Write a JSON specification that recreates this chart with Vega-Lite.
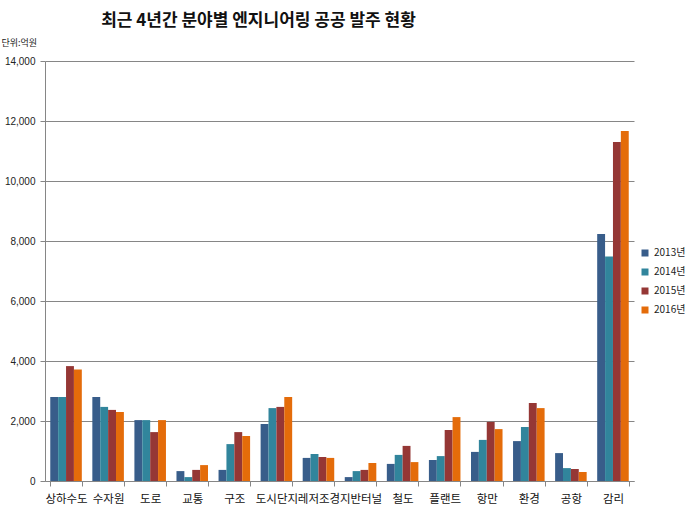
{
  "$schema": "https://vega.github.io/schema/vega-lite/v6.json",
  "width": 589,
  "height": 420,
  "autosize": {"type": "none"},
  "padding": {"left": 45, "top": 61, "right": 55, "bottom": 28},
  "background": "white",
  "title": {
    "text": "최근 4년간 분야별 엔지니어링 공공 발주 현황",
    "anchor": "middle",
    "frame": "group",
    "dx": -81,
    "baseline": "bottom",
    "offset": -9,
    "font": "Noto Sans CJK KR",
    "fontSize": 17,
    "fontWeight": "bold",
    "color": "#111111"
  },
  "data": {
    "values": [
      {"분야": "상하수도", "연도": "2013년", "값": 2800},
      {"분야": "상하수도", "연도": "2014년", "값": 2800},
      {"분야": "상하수도", "연도": "2015년", "값": 3830},
      {"분야": "상하수도", "연도": "2016년", "값": 3720},
      {"분야": "수자원", "연도": "2013년", "값": 2800},
      {"분야": "수자원", "연도": "2014년", "값": 2470},
      {"분야": "수자원", "연도": "2015년", "값": 2370},
      {"분야": "수자원", "연도": "2016년", "값": 2300},
      {"분야": "도로", "연도": "2013년", "값": 2030},
      {"분야": "도로", "연도": "2014년", "값": 2030},
      {"분야": "도로", "연도": "2015년", "값": 1630},
      {"분야": "도로", "연도": "2016년", "값": 2030},
      {"분야": "교통", "연도": "2013년", "값": 330},
      {"분야": "교통", "연도": "2014년", "값": 130},
      {"분야": "교통", "연도": "2015년", "값": 370},
      {"분야": "교통", "연도": "2016년", "값": 530},
      {"분야": "구조", "연도": "2013년", "값": 370},
      {"분야": "구조", "연도": "2014년", "값": 1230},
      {"분야": "구조", "연도": "2015년", "값": 1630},
      {"분야": "구조", "연도": "2016년", "값": 1500},
      {"분야": "도시단지", "연도": "2013년", "값": 1900},
      {"분야": "도시단지", "연도": "2014년", "값": 2430},
      {"분야": "도시단지", "연도": "2015년", "값": 2470},
      {"분야": "도시단지", "연도": "2016년", "값": 2800},
      {"분야": "레저조경", "연도": "2013년", "값": 770},
      {"분야": "레저조경", "연도": "2014년", "값": 900},
      {"분야": "레저조경", "연도": "2015년", "값": 800},
      {"분야": "레저조경", "연도": "2016년", "값": 770},
      {"분야": "지반터널", "연도": "2013년", "값": 130},
      {"분야": "지반터널", "연도": "2014년", "값": 330},
      {"분야": "지반터널", "연도": "2015년", "값": 370},
      {"분야": "지반터널", "연도": "2016년", "값": 600},
      {"분야": "철도", "연도": "2013년", "값": 570},
      {"분야": "철도", "연도": "2014년", "값": 870},
      {"분야": "철도", "연도": "2015년", "값": 1170},
      {"분야": "철도", "연도": "2016년", "값": 630},
      {"분야": "플랜트", "연도": "2013년", "값": 700},
      {"분야": "플랜트", "연도": "2014년", "값": 830},
      {"분야": "플랜트", "연도": "2015년", "값": 1700},
      {"분야": "플랜트", "연도": "2016년", "값": 2130},
      {"분야": "항만", "연도": "2013년", "값": 970},
      {"분야": "항만", "연도": "2014년", "값": 1370},
      {"분야": "항만", "연도": "2015년", "값": 1970},
      {"분야": "항만", "연도": "2016년", "값": 1730},
      {"분야": "환경", "연도": "2013년", "값": 1330},
      {"분야": "환경", "연도": "2014년", "값": 1800},
      {"분야": "환경", "연도": "2015년", "값": 2600},
      {"분야": "환경", "연도": "2016년", "값": 2430},
      {"분야": "공항", "연도": "2013년", "값": 930},
      {"분야": "공항", "연도": "2014년", "값": 430},
      {"분야": "공항", "연도": "2015년", "값": 400},
      {"분야": "공항", "연도": "2016년", "값": 300},
      {"분야": "감리", "연도": "2013년", "값": 8230},
      {"분야": "감리", "연도": "2014년", "값": 7480},
      {"분야": "감리", "연도": "2015년", "값": 11300},
      {"분야": "감리", "연도": "2016년", "값": 11670}
    ]
  },
  "mark": {"type": "bar"},
  "encoding": {
    "x": {
      "field": "분야",
      "type": "nominal",
      "sort": null,
      "scale": {"paddingInner": 0.25, "paddingOuter": 0.125},
      "axis": {
        "title": null,
        "labelAngle": 0,
        "labelFont": "Noto Sans CJK KR",
        "labelFontSize": 11.5,
        "labelColor": "#111111",
        "labelOverlap": false,
        "labelPadding": 7,
        "tickBand": "extent",
        "tickSize": 5,
        "tickColor": "#868686",
        "domainColor": "#868686",
        "grid": false
      }
    },
    "y": {
      "field": "값",
      "type": "quantitative",
      "scale": {"domain": [0, 14000], "nice": false},
      "axis": {
        "values": [0, 2000, 4000, 6000, 8000, 10000, 12000, 14000],
        "format": ",.0f",
        "labelFont": "Liberation Sans",
        "labelFontSize": 10,
        "labelColor": "#222222",
        "labelPadding": 5,
        "tickSize": 5,
        "tickColor": "#868686",
        "domainColor": "#868686",
        "gridColor": "#868686",
        "gridOpacity": 1,
        "title": "단위:억원",
        "titleAngle": 0,
        "titleAlign": "left",
        "titleBaseline": "middle",
        "titleX": -44,
        "titleY": -19,
        "titleFont": "Noto Sans CJK KR",
        "titleFontSize": 9,
        "titleFontWeight": "normal",
        "titleColor": "#222222"
      }
    },
    "xOffset": {"field": "연도", "type": "nominal", "scale": {"paddingInner": 0}},
    "color": {
      "field": "연도",
      "type": "nominal",
      "scale": {
        "domain": ["2013년", "2014년", "2015년", "2016년"],
        "range": ["#385D8A", "#31859C", "#953735", "#E46C0A"]
      },
      "legend": {
        "title": null,
        "orient": "none",
        "legendX": 595,
        "legendY": 187,
        "symbolType": "square",
        "symbolSize": 49,
        "symbolStrokeWidth": 0,
        "labelFont": "Noto Sans CJK KR",
        "labelFontSize": 10,
        "labelColor": "#222222",
        "rowPadding": 9,
        "labelOffset": 4
      }
    }
  },
  "config": {"view": {"stroke": null}}
}
